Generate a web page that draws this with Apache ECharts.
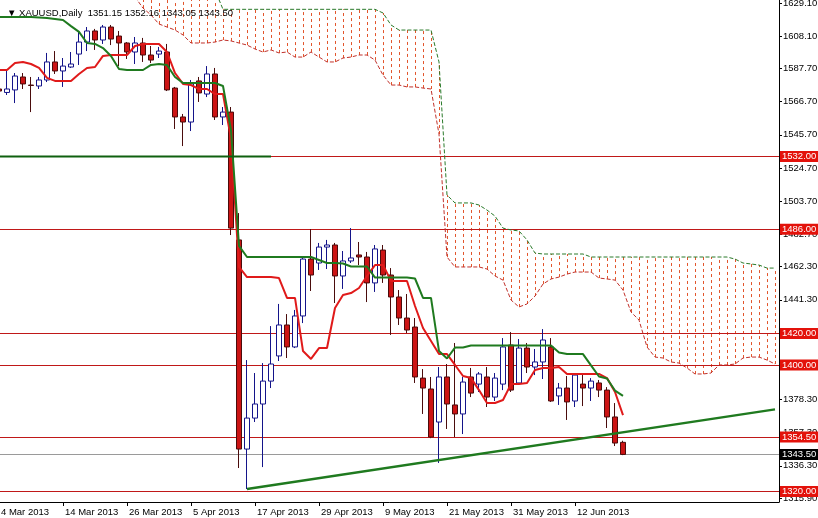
<!DOCTYPE html>
<html><head><meta charset="utf-8">
<script src="https://cdn.jsdelivr.net/npm/echarts@6/dist/echarts.min.js"></script>
<style>html,body{margin:0;padding:0;background:#fff}#c{width:818px;height:518px}</style>
</head><body><div id="c"></div>
<script>
// ---- categories (trading days, incl. future days used by the shifted cloud)
const marDays = [4,5,6,7,8,11,12,13,14,15,18,19,20,21,22,25,26,27,28,29];
const aprDays = [1,2,3,4,5,8,9,10,11,12,15,16,17,18,19,22,23,24,25,26,29,30];
const mayDays = [1,2,3,6,7,8,9,10,13,14,15,16,17,20,21,22,23,24,27,28,29,30,31];
const junDays = [3,4,5,6,7,10,11,12,13,14,17,18,19,20,21,24,25,26,27,28];
const julDays = [1,2,3,4,5,8,9,10,11,12,15,16,17];
const xTickLabels = ['4 Mar 2013','14 Mar 2013','26 Mar 2013','5 Apr 2013','17 Apr 2013','29 Apr 2013','9 May 2013','21 May 2013','31 May 2013','12 Jun 2013'];
const yTickLabels = [1629.10,1608.10,1587.70,1566.70,1545.70,1524.70,1503.70,1482.70,1462.30,1441.30,1420.30,1399.30,1378.30,1357.30,1336.30,1315.90];

// ---- OHLC
const openV = [1574.7,1572.5,1574.1,1582.3,1577.2,1576.6,1580.4,1591.8,1586.1,1588.6,
 1596.8,1604.4,1611.4,1605.7,1613.9,1608.2,1603.8,1598.1,1603.8,1596.2,
 1596.8,1598.1,1575.3,1557.0,1553.8,1579.8,1571.5,1584.2,1557.0,1560.1,
 1479.2,1346.9,1366.5,1375.4,1389.9,1405.8,1425.4,1411.5,1431.1,1467.1,
 1464.6,1474.7,1476.0,1456.4,1465.9,1469.7,1468.4,1452.0,1472.8,1457.0,
 1443.1,1429.8,1424.1,1391.8,1384.9,1364.0,1392.5,1374.8,1369.1,1392.5,
 1388.0,1392.5,1379.8,1388.0,1412.7,1388.7,1410.8,1398.8,1402.0,1411.5,
 1380.5,1385.5,1377.3,1388.0,1385.5,1388.7,1384.2,1367.2,1351.15];
const closeV = [1573.4,1574.7,1582.9,1577.9,1576.9,1580.4,1591.8,1586.1,1589.2,1590.5,
 1604.4,1611.4,1605.7,1613.9,1606.3,1603.8,1598.1,1603.8,1596.2,1593.0,
 1598.7,1574.1,1557.0,1553.8,1577.9,1572.2,1584.2,1557.0,1560.1,1486.7,
 1346.9,1366.5,1375.4,1389.9,1400.7,1425.4,1411.5,1431.1,1467.1,1457.0,
 1474.7,1476.0,1456.4,1465.9,1467.8,1468.4,1452.0,1473.5,1457.0,1443.1,
 1429.8,1422.2,1392.5,1385.5,1354.5,1392.5,1375.4,1369.1,1389.3,1382.3,
 1394.4,1379.8,1391.8,1411.5,1384.2,1410.8,1398.8,1402.0,1415.9,1377.3,
 1385.5,1376.7,1393.7,1385.5,1389.9,1384.2,1367.2,1350.7,1343.50];
const lowV = [1572.2,1570.9,1565.8,1574.7,1560.1,1574.7,1579.1,1584.2,1576.0,1588.0,
 1589.9,1598.7,1599.4,1603.2,1602.5,1589.2,1593.7,1590.5,1591.8,1591.1,
 1594.3,1573.4,1549.4,1538.6,1548.1,1566.5,1569.6,1555.1,1551.9,1482.3,
 1334.9,1321.6,1364.0,1335.5,1385.5,1402.6,1404.5,1410.8,1426.6,1446.9,
 1460.2,1460.8,1439.3,1448.2,1464.6,1463.3,1439.9,1446.3,1452.0,1419.1,
 1425.4,1420.3,1388.7,1369.1,1353.8,1338.1,1359.6,1354.5,1356.4,1379.8,
 1383.0,1373.5,1377.3,1384.2,1383.0,1388.0,1395.0,1393.7,1391.2,1376.7,
 1374.8,1365.3,1373.5,1374.1,1377.3,1379.8,1360.2,1348.8,1343.05];
const highV = [1575.3,1586.1,1584.8,1584.8,1582.3,1582.3,1597.5,1598.7,1594.3,1598.1,
 1610.8,1613.9,1612.7,1615.2,1615.2,1611.4,1604.4,1607.6,1607.0,1601.9,
 1601.3,1603.2,1576.0,1558.9,1580.4,1582.3,1589.2,1588.0,1563.3,1563.3,
 1496.2,1403.2,1395.0,1401.3,1424.7,1438.7,1432.3,1434.9,1467.8,1486.1,
 1477.3,1479.2,1477.3,1472.2,1486.7,1477.9,1471.6,1476.0,1476.0,1461.4,
 1447.5,1445.0,1429.8,1397.5,1392.5,1398.8,1400.7,1414.0,1392.5,1398.2,
 1395.6,1398.8,1395.0,1417.1,1420.9,1416.5,1414.0,1410.2,1422.8,1417.1,
 1388.7,1393.1,1395.0,1394.4,1391.8,1390.6,1386.1,1376.0,1352.16];

// ---- Ichimoku lines
const tenkan = [1586.7,1586.7,1591.1,1591.8,1590.5,1588.0,1581.7,1579.8,1579.8,1579.8,
 1584.2,1588.0,1588.6,1595.6,1596.2,1596.2,1596.2,1601.9,1603.2,1603.2,
 1603.2,1598.1,1584.8,1577.9,1577.2,1574.7,1574.7,1571.5,1571.5,1543.1,
 1462.1,1455.7,1455.7,1455.7,1455.7,1455.1,1442.5,1442.5,1408.9,1403.9,
 1410.8,1410.8,1436.1,1444.4,1445.6,1448.8,1456.4,1463.3,1463.3,1453.2,
 1453.2,1453.2,1437.4,1423.5,1415.3,1407.0,1407.0,1400.1,1393.1,1391.8,
 1384.2,1376.0,1376.0,1377.9,1388.0,1388.0,1388.7,1396.9,1398.2,1398.2,
 1398.8,1394.4,1394.4,1394.4,1394.4,1394.4,1391.8,1383.0,1368.4];
const kijun = [1620.2,1620.2,1620.2,1620.2,1620.2,1619.9,1619.6,1619.0,1618.3,1614.5,
 1610.8,1603.8,1603.2,1600.6,1595.6,1587.3,1586.7,1586.7,1586.7,1589.9,
 1590.5,1589.9,1582.3,1578.5,1578.5,1578.5,1578.5,1578.5,1576.6,1548.7,
 1475.4,1468.4,1468.4,1468.4,1468.4,1468.4,1468.4,1468.4,1468.4,1468.4,
 1466.5,1464.6,1464.6,1464.3,1462.4,1462.4,1462.4,1455.4,1455.4,1455.4,
 1455.4,1455.4,1454.8,1442.5,1442.5,1408.9,1404.2,1411.1,1411.1,1412.4,
 1412.4,1412.4,1412.4,1412.4,1412.4,1412.4,1412.4,1412.4,1412.4,1412.4,
 1408.0,1407.0,1407.0,1407.0,1399.8,1392.8,1391.5,1383.9,1380.5];
// cloud, starting at category index 17
const cloudStart = 17;
const spanA = [1632.9,1625.9,1621.5,1615.8,1613.9,1612.0,1608.9,1603.8,1603.8,1603.8,
 1604.4,1605.7,1605.1,1603.8,1602.5,1600.0,1598.1,1599.4,1597.5,1598.1,
 1594.9,1594.9,1598.1,1594.9,1591.8,1591.8,1594.3,1594.9,1596.2,1596.2,
 1593.0,1583.5,1577.2,1577.2,1576.0,1576.0,1575.3,1574.7,1546.2,1468.4,
 1462.1,1462.1,1462.1,1462.1,1460.8,1456.4,1453.8,1441.2,1436.8,1438.7,
 1443.7,1451.3,1454.5,1455.7,1457.6,1458.9,1458.9,1458.9,1455.1,1454.5,
 1453.8,1447.5,1433.6,1428.5,1411.5,1405.1,1404.5,1402.0,1401.3,1398.2,
 1394.4,1394.4,1395.0,1400.1,1400.1,1400.7,1404.5,1405.1,1405.1,1403.2,1400.7];
const spanB = [1637.3,1637.3,1637.3,1637.3,1637.3,1637.3,1637.3,1637.3,1637.3,1637.3,
 1637.3,1625.1,1625.1,1625.1,1625.1,1625.1,1625.1,1625.1,1625.1,1625.1,
 1625.1,1625.1,1625.1,1625.1,1625.1,1625.1,1625.1,1625.1,1625.1,1625.1,
 1625.1,1622.8,1615.2,1612.0,1612.0,1612.0,1612.0,1612.0,1591.8,1507.6,
 1502.6,1502.6,1502.6,1501.3,1498.1,1494.3,1486.7,1485.5,1484.9,1479.2,
 1470.9,1470.3,1470.3,1470.3,1470.3,1470.3,1470.3,1468.4,1468.4,1468.4,
 1468.4,1468.4,1468.4,1468.4,1468.4,1468.4,1468.4,1468.4,1468.4,1468.4,
 1468.4,1468.4,1468.4,1468.4,1468.4,1467.1,1464.6,1464.0,1463.3,1461.4,1461.4];

// ---- drawn objects
const redLevels = [1532.00, 1486.00, 1420.00, 1400.00, 1354.50, 1320.00];
const lastPrice = 1343.50;
const trendIdx = [31, 97];
const trendVal = [1321.6, 1372.0];
const greenLevelIdx = [0, 34];
const greenLevelVal = 1532.00;
const titleText = '\u25BC XAUUSD,Daily  1351.15 1352.16 1343.05 1343.50';

const categories = [].concat(
  marDays.map(d => d + ' Mar 2013'), aprDays.map(d => d + ' Apr 2013'),
  mayDays.map(d => d + ' May 2013'), junDays.map(d => d + ' Jun 2013'),
  julDays.map(d => d + ' Jul 2013'));

const ohlc = openV.map((o, i) => [o, closeV[i], lowV[i], highV[i]]);
const pad = n => new Array(n).fill(null);
const spanAData = pad(cloudStart).concat(spanA);
const spanBData = pad(cloudStart).concat(spanB);
const hatchData = spanA.map((a, k) => [cloudStart + k, a, spanB[k]]);

const FONT = 'Liberation Sans';
const FS = 9.5;
const labelStyle = (bg) => ({
  show: true, position: 'end', distance: 1,
  formatter: p => Number(p.value).toFixed(2),
  backgroundColor: bg, color: '#fff', fontFamily: FONT, fontSize: FS,
  lineHeight: 11, padding: [0, 3, 0, 2]
});

const markData = redLevels.map(v => ({
  yAxis: v, lineStyle: {color: '#c01818', width: 1, type: 'solid'},
  label: labelStyle('#e3120b')
}));
markData.push({
  yAxis: lastPrice, lineStyle: {color: '#9a9a9a', width: 1, type: 'solid'},
  label: labelStyle('#000000')
});

const chart = echarts.init(document.getElementById('c'), null, {renderer: 'canvas'});
chart.setOption({
  animation: false,
  backgroundColor: '#ffffff',
  title: {
    text: titleText, left: 2, top: 3,
    textStyle: {fontFamily: FONT, fontSize: FS, fontWeight: 'normal', color: '#000'}
  },
  grid: {left: -5, top: 0, width: 784, height: 502, outerBoundsMode: 'none', containLabel: false},
  xAxis: {
    type: 'category', data: categories, boundaryGap: true,
    axisLine: {show: true, lineStyle: {color: '#000', width: 1}},
    axisTick: {show: true, alignWithLabel: true, length: 4, lineStyle: {color: '#000'},
      interval: (i, v) => xTickLabels.includes(v)},
    axisLabel: {show: true, interval: (i, v) => xTickLabels.includes(v), align: 'left',
      margin: 5, padding: [0, 0, 0, 2], fontFamily: FONT, fontSize: FS, color: '#000'},
    splitLine: {show: false}
  },
  yAxis: {
    type: 'value', position: 'right', min: 1313.4, max: 1631.0, scale: true,
    axisLine: {show: true, lineStyle: {color: '#000', width: 1}},
    axisTick: {show: true, length: 3, customValues: yTickLabels, lineStyle: {color: '#000'}},
    axisLabel: {show: true, customValues: yTickLabels, formatter: v => Number(v).toFixed(2),
      margin: 4, fontFamily: FONT, fontSize: FS, color: '#000'},
    splitLine: {show: false}
  },
  series: [
    {
      type: 'custom', name: 'cloud', z: 1, silent: true,
      data: hatchData,
      encode: {x: 0, y: [1, 2]},
      renderItem: (params, api) => {
        const p1 = api.coord([api.value(0), api.value(1)]);
        const p2 = api.coord([api.value(0), api.value(2)]);
        const cs = params.coordSys;
        const cl = y => Math.max(cs.y, Math.min(cs.y + cs.height, y));
        const x = Math.round(p1[0]) + 0.5;
        return {type: 'line', shape: {x1: x, y1: cl(p1[1]), x2: x, y2: cl(p2[1])},
          style: {stroke: '#e2552c', lineWidth: 1, lineDash: [3, 3]}};
      }
    },
    {type: 'line', name: 'Senkou A', data: spanAData, z: 2, showSymbol: false, silent: true,
      lineStyle: {color: '#c0302a', width: 1, type: [4, 2]}},
    {type: 'line', name: 'Senkou B', data: spanBData, z: 2, showSymbol: false, silent: true,
      lineStyle: {color: '#2a7a2a', width: 1, type: [4, 2]}},
    {
      type: 'candlestick', name: 'XAUUSD', data: ohlc, z: 3, barWidth: 5,
      itemStyle: {color: '#ffffff', borderColor: '#14148a', color0: '#cc1414', borderColor0: '#4a0c0c', borderWidth: 1},
      markLine: {z: 2, symbol: ['none', 'none'], silent: true, animation: false, data: markData}
    },
    {type: 'line', name: 'Tenkan', data: tenkan, z: 6, showSymbol: false, silent: true,
      lineStyle: {color: '#e01a1a', width: 2}},
    {type: 'line', name: 'Kijun', data: kijun, z: 6, showSymbol: false, silent: true,
      lineStyle: {color: '#1f7a1f', width: 2}},
    {type: 'line', name: 'Support 1532', z: 6, showSymbol: false, silent: true,
      data: greenLevelIdx.map(i => [categories[i], greenLevelVal]),
      lineStyle: {color: '#0f600f', width: 2}},
    {type: 'line', name: 'Trendline', z: 7, showSymbol: false, silent: true,
      data: trendIdx.map((i, k) => [categories[i], trendVal[k]]),
      lineStyle: {color: '#1f7a1f', width: 2.5}}
  ]
});
</script></body></html>
